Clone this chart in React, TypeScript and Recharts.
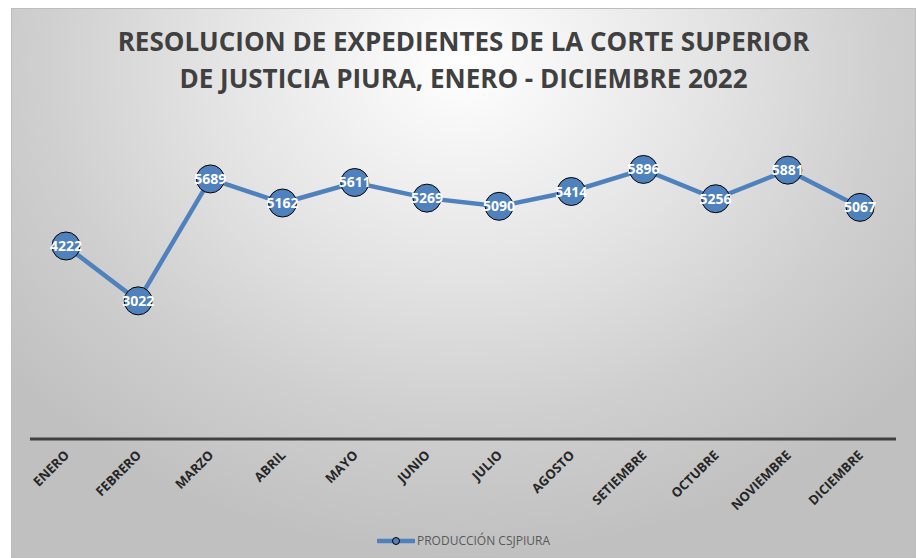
import React from "react";
import { LineChart, Line, XAxis, YAxis, LabelList } from "recharts";

const months = [
  "ENERO",
  "FEBRERO",
  "MARZO",
  "ABRIL",
  "MAYO",
  "JUNIO",
  "JULIO",
  "AGOSTO",
  "SETIEMBRE",
  "OCTUBRE",
  "NOVIEMBRE",
  "DICIEMBRE",
];
const produccion = [4222, 3022, 5689, 5162, 5611, 5269, 5090, 5414, 5896, 5256, 5881, 5067];

const data = months.map((mes, i) => ({ mes, produccion: produccion[i] }));

const BLUE = "#4f81bd";
const FONT = "'Open Sans', 'Liberation Sans', sans-serif";

function MonthTick(props: any) {
  const { x, y, payload } = props;
  return (
    <text
      x={x + 4}
      y={y + 9}
      transform={`rotate(-45 ${x + 4} ${y + 9})`}
      textAnchor="end"
      fontFamily={FONT}
      fontWeight={700}
      fontSize={13}
      fill="#262626"
    >
      {payload.value}
    </text>
  );
}

function PointLabel(props: any) {
  const { x, y, value } = props;
  return (
    <text
      x={x}
      y={y}
      dy={5}
      textAnchor="middle"
      fontFamily={FONT}
      fontWeight={700}
      fontSize={14}
      fill="#ffffff"
    >
      {value}
    </text>
  );
}

export default function App() {
  return (
    <div
      style={{
        position: "absolute",
        left: 11,
        top: 8,
        width: 903,
        height: 548,
        border: "1px solid #bdbdbd",
        background:
          "radial-gradient(ellipse 65% 90% at 50% 10%, #ffffff 0%, #e4e4e4 42%, #cfcfcf 72%, #c0c0c0 100%)",
      }}
    >
      <div
        style={{
          position: "absolute",
          left: 0,
          top: 14,
          width: 903,
          textAlign: "center",
          fontFamily: FONT,
          fontWeight: 700,
          fontSize: 26,
          lineHeight: "36.5px",
          color: "#404040",
        }}
      >
        RESOLUCION DE EXPEDIENTES DE LA CORTE SUPERIOR
        <br />
        DE JUSTICIA PIURA, ENERO - DICIEMBRE 2022
      </div>
      <LineChart
        width={903}
        height={548}
        data={data}
        margin={{ top: 110, right: 19, left: 18, bottom: 0 }}
      >
        <XAxis
          dataKey="mes"
          height={118}
          interval={0}
          padding={{ left: 36, right: 36 }}
          axisLine={{ stroke: "#404040", strokeWidth: 3 }}
          tickLine={false}
          tick={<MonthTick />}
        />
        <YAxis hide domain={[0, 7000]} />
        <Line
          type="linear"
          dataKey="produccion"
          name="PRODUCCIÓN CSJPIURA"
          stroke={BLUE}
          strokeWidth={4.5}
          dot={{ r: 14, fill: BLUE, stroke: "#000000", strokeWidth: 1 }}
          isAnimationActive={false}
        >
          <LabelList dataKey="produccion" content={<PointLabel />} />
        </Line>
      </LineChart>
      <div
        style={{
          position: "absolute",
          left: 0,
          top: 523,
          width: 903,
          display: "flex",
          justifyContent: "center",
          alignItems: "center",
          fontFamily: FONT,
          fontSize: 12,
          color: "#595959",
        }}
      >
        <svg width={38} height={12} style={{ marginRight: 2 }}>
          <line x1={1} y1={6} x2={37} y2={6} stroke={BLUE} strokeWidth={4.5} strokeLinecap="round" />
          <circle cx={19} cy={6} r={3.5} fill={BLUE} stroke="#000" strokeWidth={1} />
        </svg>
        <span>PRODUCCIÓN CSJPIURA</span>
      </div>
    </div>
  );
}
